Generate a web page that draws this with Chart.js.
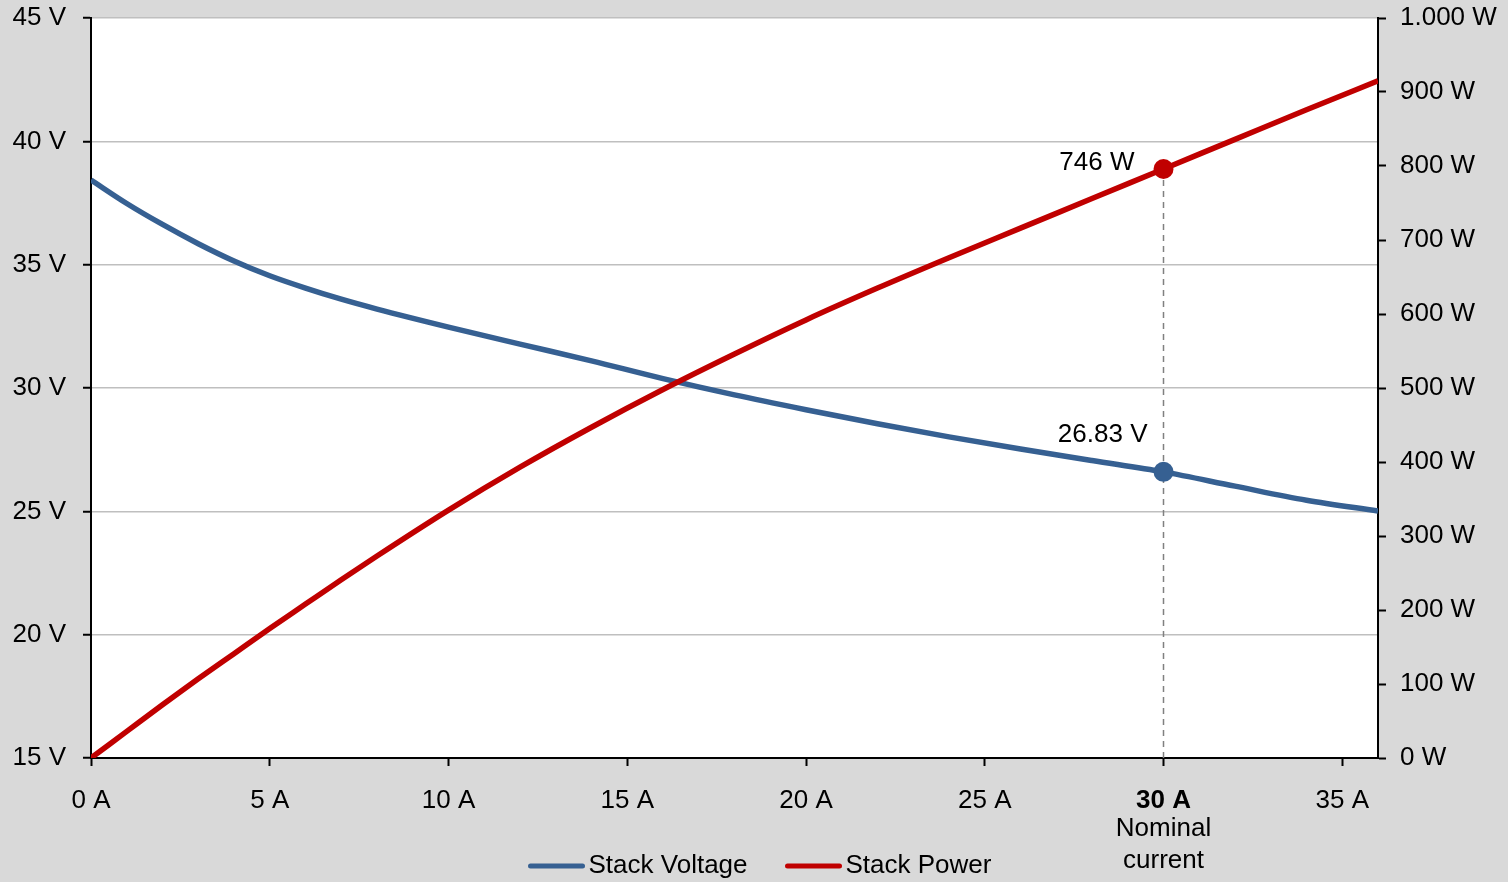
<!DOCTYPE html>
<html>
<head>
<meta charset="utf-8">
<script src="https://cdn.jsdelivr.net/npm/chart.js@4.4.1/dist/chart.umd.min.js"></script>
<style>
html, body { margin: 0; padding: 0; background: #d9d9d9; }
#wrap { width: 1508px; height: 882px; }
</style>
</head>
<body>
<div id="wrap"><canvas id="stackChart" width="1508" height="882"></canvas></div>
<script>
// --- Data ---
const currentA = [0, 1, 2, 3, 4, 5, 6, 7, 8, 10, 12, 14, 16, 18, 20, 22, 24, 26, 28, 30, 32, 34, 36];
const stackVoltage = [38.43, 37.48, 36.63, 35.85, 35.15, 34.55, 34.05, 33.6, 33.2, 32.47, 31.78, 31.1, 30.38, 29.72, 29.12, 28.55, 28.02, 27.53, 27.06, 26.6, 26.02, 25.45, 25.01];
const stackPower = [0, 36, 72, 107, 141, 175, 208, 241, 273, 335, 393, 447, 498, 546, 592, 635, 676, 716, 756, 796, 836, 876, 915];

const nominalCurrent = 30;
const nominalVoltage = 26.6;   // where the marker sits
const nominalPower = 796;
const voltageLabel = "26.83 V";
const powerLabel = "746 W";

const xTicks = [0, 5, 10, 15, 20, 25, 30, 35];
const voltTicks = [15, 20, 25, 30, 35, 40, 45];
const powerTicks = [0, 100, 200, 300, 400, 500, 600, 700, 800, 900, 1000];

const BLUE = "#366092";
const RED = "#c00000";
const FONT = "'Liberation Sans', Arial, sans-serif";

Chart.defaults.font.family = FONT;
Chart.defaults.font.size = 26;
Chart.defaults.color = "#000";

const pts = (ys) => currentA.map((x, i) => ({ x, y: ys[i] }));

// vertical axes: fixed width, no extra label padding
const fitY = (w) => (s) => {
    s.width = w;
    s.paddingTop = 0;
    s.paddingBottom = 0;
};

// --- Extra drawing: plot background, nominal labels, legend ---
const extras = {
    id: "extras",
    beforeDraw(chart) {
        const { ctx, chartArea: a } = chart;
        ctx.save();
        ctx.fillStyle = "#d9d9d9";
        ctx.fillRect(0, 0, chart.width, chart.height);
        ctx.fillStyle = "#fff";
        ctx.fillRect(a.left, a.top, a.right - a.left, a.bottom - a.top);
        ctx.restore();
    },
    afterDraw(chart) {
        const { ctx } = chart;
        const xs = chart.scales.x;
        const xNom = xs.getPixelForValue(nominalCurrent);
        ctx.save();
        ctx.font = "26px " + FONT;
        ctx.fillStyle = "#000";
        ctx.textAlign = "center";
        ctx.textBaseline = "middle";
        ctx.fillText("Nominal", xNom, 829);
        ctx.fillText("current", xNom, 861);

        // point labels
        ctx.textAlign = "right";
        const yP = chart.scales.yP.getPixelForValue(nominalPower);
        const yV = chart.scales.y.getPixelForValue(nominalVoltage);
        ctx.fillText(powerLabel, xNom - 29, yP - 6);
        ctx.fillText(voltageLabel, xNom - 16, yV - 37);

        // legend
        const items = [chart.data.datasets[1], chart.data.datasets[0]];
        const lineW = 56, gap = 4, itemGap = 38;
        const widths = items.map((d) => ctx.measureText(d.label).width);
        const total = widths.reduce((s, w) => s + lineW + gap + w, 0) + itemGap;
        let x = 760 - total / 2;
        const y = 866;
        ctx.textAlign = "left";
        items.forEach((d, i) => {
            ctx.strokeStyle = d.borderColor;
            ctx.lineWidth = 5;
            ctx.lineCap = "round";
            ctx.beginPath();
            ctx.moveTo(x + 2, y);
            ctx.lineTo(x + lineW - 2, y);
            ctx.stroke();
            ctx.fillText(d.label, x + lineW + gap, y);
            x += lineW + gap + widths[i] + itemGap;
        });
        ctx.restore();
    },
};

const chart = new Chart(document.getElementById("stackChart"), {
    type: "line",
    data: {
        datasets: [
            {
                label: "Stack Power",
                data: pts(stackPower),
                yAxisID: "yP",
                borderColor: RED,
                borderWidth: 5.5,
                pointRadius: 0,
                cubicInterpolationMode: "monotone",
                order: 1,
            },
            {
                label: "Stack Voltage",
                data: pts(stackVoltage),
                yAxisID: "y",
                borderColor: BLUE,
                borderWidth: 5.5,
                pointRadius: 0,
                cubicInterpolationMode: "monotone",
                order: 2,
            },
            {
                label: "nominal",
                data: [{ x: nominalCurrent, y: 0 }, { x: nominalCurrent, y: nominalPower }],
                yAxisID: "yP",
                borderColor: "#808080",
                borderWidth: 1.5,
                borderDash: [6, 5],
                pointRadius: 0,
                order: 3,
            },
            {
                label: "power point",
                data: [{ x: nominalCurrent, y: nominalPower }],
                yAxisID: "yP",
                showLine: false,
                pointRadius: 10,
                pointBackgroundColor: RED,
                pointBorderWidth: 0,
                order: 0,
            },
            {
                label: "voltage point",
                data: [{ x: nominalCurrent, y: nominalVoltage }],
                yAxisID: "y",
                showLine: false,
                pointRadius: 10,
                pointBackgroundColor: BLUE,
                pointBorderWidth: 0,
                order: 0,
            },
        ],
    },
    options: {
        responsive: false,
        animation: false,
        layout: { padding: { top: 18, bottom: 32, left: 0, right: 0 } },
        plugins: { legend: { display: false }, tooltip: { enabled: false } },
        scales: {
            x: {
                type: "linear",
                position: "bottom",
                min: 0,
                max: 36,
                afterBuildTicks: (s) => { s.ticks = xTicks.map((v) => ({ value: v })); },
                afterFit: (s) => { s.height = 92; s.paddingLeft = 0; s.paddingRight = 0; },
                ticks: {
                    callback: (v) => v + " A",
                    padding: 19,
                    maxRotation: 0,
                    autoSkip: false,
                    font: (c) => ({ family: FONT, size: 26, weight: c.tick && c.tick.value === nominalCurrent ? "bold" : "normal" }),
                },
                grid: { drawOnChartArea: false, tickLength: 8, tickColor: "#000", tickWidth: 2 },
                border: { color: "#000", width: 2 },
            },
            y: {
                position: "left",
                min: 15,
                max: 45,
                afterBuildTicks: (s) => { s.ticks = voltTicks.map((v) => ({ value: v })); },
                afterFit: fitY(91),
                ticks: { callback: (v) => v + " V", padding: 17 },
                grid: { color: "#bfbfbf", lineWidth: 1.5, tickLength: 8, tickColor: "#000", tickWidth: 2 },
                border: { color: "#000", width: 2 },
            },
            yP: {
                position: "right",
                min: 0,
                max: 1000,
                afterBuildTicks: (s) => { s.ticks = powerTicks.map((v) => ({ value: v })); },
                afterFit: fitY(130),
                ticks: { callback: (v) => v.toLocaleString("de-DE") + " W", padding: 14 },
                grid: { drawOnChartArea: false, tickLength: 8, tickColor: "#000", tickWidth: 2 },
                border: { color: "#000", width: 2 },
            },
        },
    },
    plugins: [extras],
});
</script>
</body>
</html>
